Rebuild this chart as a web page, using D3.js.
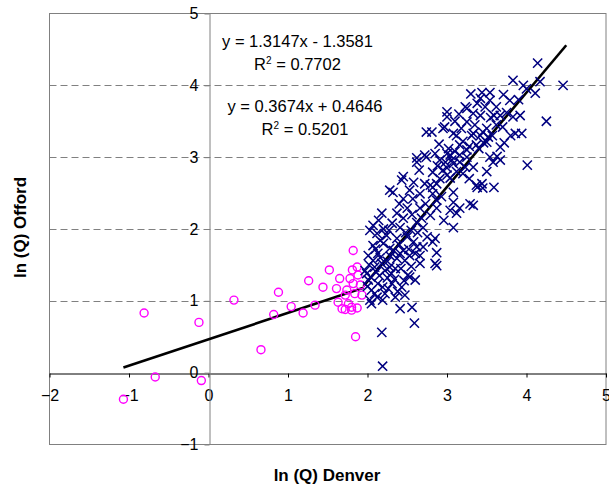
<!DOCTYPE html>
<html lang="en">
<head>
  <meta charset="UTF-8">
  <title>ln Q scatter</title>
  <style>
    body { margin: 0; background: #fff; }
    text { font-family: "Liberation Sans", Arial, sans-serif; fill: #000; }
    .grid line { stroke: #808080; stroke-dasharray: 7,4; }
    .title { font-weight: bold; font-size: 17px; }
    .eq { font-size: 16.5px; }
  </style>
</head>
<body>
  <svg width="609" height="493"></svg>
  <script src="https://cdn.jsdelivr.net/npm/d3@7"></script>
  <script>
    // ln(Q) pairs, Denver (x) vs Offord (y)
    var lowFlow = [
      [-1.07,-0.37],[-0.81,0.83],[-0.67,-0.06],[-0.12,0.70],[-0.09,-0.11],[0.32,1.01],
      [0.66,0.32],[0.82,0.81],[0.88,1.12],[1.04,0.92],[1.19,0.83],[1.26,1.28],
      [1.34,0.94],[1.44,1.19],[1.52,1.43],[1.61,1.17],[1.63,0.98],[1.65,1.31],
      [1.68,0.89],[1.72,1.08],[1.72,0.88],[1.74,1.15],[1.76,0.96],[1.78,1.31],
      [1.80,0.91],[1.80,0.87],[1.81,1.43],[1.82,1.70],[1.82,1.24],[1.84,1.10],
      [1.85,0.50],[1.87,1.47],[1.87,0.90],[1.88,1.36],[1.91,1.22],[1.93,1.08]
    ];
    var highFlow = [
      [2.19,0.09],[2.18,0.56],[2.59,0.69],[2.41,0.89],[2.56,0.91],[2.05,0.96],
      [2.19,1.01],[2.03,1.01],[2.35,1.05],[2.12,1.05],[2.47,1.08],[2.09,1.10],
      [2.22,1.10],[2.43,1.19],[2.19,1.19],[2.13,1.24],[2.31,1.24],[2.01,1.29],
      [2.60,1.29],[2.53,1.33],[2.51,1.36],[1.99,1.38],[2.22,1.42],[1.97,1.42],
      [2.09,1.47],[2.28,1.47],[2.35,1.45],[2.87,1.49],[2.85,1.52],[2.66,1.52],
      [2.47,1.56],[2.16,1.60],[2.37,1.59],[2.01,1.63],[2.53,1.63],[2.66,1.63],
      [2.13,1.66],[2.60,1.66],[2.41,1.66],[2.87,1.67],[2.45,1.70],[2.28,1.73],
      [2.62,1.75],[2.07,1.77],[2.04,1.33],[2.25,1.32],[2.07,1.56],[2.30,1.38],
      [2.05,1.15],[2.15,1.35],[2.25,1.55],[2.33,1.70],[2.10,1.72],[2.20,1.80],
      [2.40,1.78],[2.48,1.95],[2.27,1.98],[2.14,2.12],[2.34,1.30],[2.42,1.45],
      [2.55,1.48],[2.58,1.82],[2.70,1.75],[2.02,1.50],[2.26,1.17],[2.38,1.13],
      [2.00,1.20],[2.11,1.40],[2.18,1.52],[2.29,1.62],[2.46,1.28],[2.52,1.72],
      [2.16,1.84],[2.82,1.82],[2.37,1.87],[2.85,1.87],[2.50,1.89],[2.75,1.89],
      [2.24,1.91],[2.12,1.94],[2.07,2.05],[2.31,2.08],[2.41,2.02],[2.62,2.09],
      [2.70,2.02],[3.08,2.02],[2.45,2.15],[2.79,2.19],[2.18,2.22],[2.37,2.22],
      [3.12,2.22],[3.04,2.26],[2.50,2.29],[2.66,2.29],[2.87,2.29],[3.16,2.29],
      [3.33,2.33],[3.29,2.35],[2.87,2.40],[3.08,2.37],[2.45,2.42],[2.57,2.42],
      [2.28,2.54],[2.53,2.54],[2.66,2.49],[2.82,2.49],[3.08,2.51],[2.32,2.51],
      [2.03,1.98],[2.20,2.00],[2.55,1.98],[2.68,2.15],[2.63,1.95],[2.73,2.35],
      [2.40,2.35],[2.56,2.20],[2.96,2.12],[2.93,2.45],
      [3.45,2.57],[3.38,2.58],[3.59,2.58],[2.82,2.58],[2.79,2.61],[3.37,2.61],
      [2.87,2.63],[2.72,2.63],[2.58,2.65],[3.44,2.63],[2.43,2.68],[2.45,2.73],
      [3.04,2.71],[3.00,2.75],[2.91,2.70],[3.20,2.77],[2.82,2.79],[2.65,2.82],
      [2.95,2.82],[3.00,2.85],[3.23,2.86],[3.33,2.86],[4.01,2.89],[3.08,2.91],
      [3.58,2.93],[3.16,2.93],[2.62,2.93],[2.91,2.96],[3.06,2.96],[3.67,2.96],
      [2.62,2.99],[2.74,3.00],[3.25,3.00],[3.54,3.00],[3.63,3.01],[2.88,2.88],
      [2.98,2.93],[3.12,2.80],[3.28,2.70],[3.50,2.80],
      [2.72,3.03],[3.04,3.03],[3.16,3.03],[3.00,3.05],[3.25,3.10],[3.02,3.12],
      [3.67,3.14],[3.16,3.17],[3.37,3.17],[3.50,3.21],[3.52,3.28],[3.12,3.30],
      [3.31,3.30],[3.42,3.30],[3.08,3.33],[3.33,3.33],[3.86,3.33],[3.94,3.33],
      [2.81,3.35],[2.74,3.35],[3.45,3.35],[2.95,3.40],[2.97,3.42],[3.25,3.49],
      [4.25,3.50],[3.10,3.08],[3.20,3.22],[3.28,3.15],[3.35,3.45],[3.40,3.12],
      [3.46,3.20],[3.50,3.40],[3.57,3.30],[3.62,3.45],[3.70,3.42],[3.10,3.50],
      [3.18,3.40],[2.90,3.18],[2.85,3.05],[3.72,3.20],[3.80,3.30],
      [3.00,3.56],[3.83,3.56],[3.42,3.58],[3.59,3.58],[3.67,3.58],[3.92,3.58],
      [3.33,3.61],[3.00,3.63],[3.23,3.70],[3.25,3.68],[3.79,3.79],[3.54,3.79],
      [3.42,3.82],[3.71,3.87],[4.11,3.89],[3.44,3.90],[3.54,3.90],[4.46,4.00],
      [3.96,4.00],[4.17,4.05],[3.83,4.07],[4.14,4.31],[3.75,3.62],[3.55,3.55],
      [3.48,3.70],[3.38,3.75],[3.62,3.70],[3.90,3.80],[4.00,3.95],[3.30,3.88],
      [3.15,3.60]
    ];
    // fitted lines: slope, intercept, x range
    var lowFit = {m: 0.3674, b: 0.4646, from: -1.07, to: 1.95};
    var highFit = {m: 1.3147, b: -1.3581, from: 1.95, to: 4.5};
    var xTicks = [-2, -1, 0, 1, 2, 3, 4, 5];
    var yTicks = [-1, 0, 1, 2, 3, 4, 5];
    var gridVals = [1, 2, 3, 4];

    var svg = d3.select("svg");
    var x = d3.scaleLinear().domain([-2, 5]).range([49.5, 606]),
      y = d3.scaleLinear().domain([-1, 5]).range([444.5, 13.5]);

    // dashed gridlines
    svg.append("g").attr("class", "grid")
      .selectAll("line").data(gridVals).enter().append("line")
      .attr("x1", x(-2)).attr("x2", x(5))
      .attr("y1", function(d) { return Math.round(y(d)) + 0.5; })
      .attr("y2", function(d) { return Math.round(y(d)) + 0.5; });

    // plot border
    svg.append("rect")
      .attr("x", x(-2)).attr("y", y(5))
      .attr("width", x(5) - x(-2)).attr("height", y(-1) - y(5))
      .attr("fill", "none").attr("stroke", "#808080");

    // axes through the origin
    var xAxis = svg.append("g")
      .attr("transform", "translate(0," + (Math.round(y(0)) + 0.5) + ")")
      .call(d3.axisBottom(x).tickValues(xTicks).tickFormat(d3.format("d"))
        .tickSize(4).tickPadding(12).tickSizeOuter(0));
    xAxis.select(".domain").attr("stroke", "#000");
    xAxis.selectAll(".tick line").attr("stroke", "#000");

    var yAxis = svg.append("g")
      .attr("transform", "translate(" + (Math.round(x(0)) + 0.5) + ",0)")
      .call(d3.axisLeft(y).tickValues(yTicks).tickFormat(d3.format("d"))
        .tickSize(5).tickPadding(6).tickSizeOuter(0));
    yAxis.select(".domain").attr("stroke", "#808080");
    yAxis.selectAll(".tick line").attr("stroke", "#808080");

    svg.selectAll(".tick text")
      .attr("font-family", "Liberation Sans, Arial, sans-serif")
      .attr("font-size", 16).attr("fill", "#000");

    // fitted lines
    var line = d3.line().x(function(d) { return x(d[0]); }).y(function(d) { return y(d[1]); });
    [lowFit, highFit].forEach(function(f) {
      svg.append("path")
        .datum([[f.from, f.m * f.from + f.b], [f.to, f.m * f.to + f.b]])
        .attr("d", line)
        .attr("fill", "none").attr("stroke", "#000").attr("stroke-width", 2.6);
    });

    // circles
    svg.append("g").selectAll("circle").data(lowFlow).enter().append("circle")
      .attr("cx", function(d) { return x(d[0]); })
      .attr("cy", function(d) { return y(d[1]); })
      .attr("r", 4).attr("fill", "none")
      .attr("stroke", "#ff00ff").attr("stroke-width", 1.4);

    // crosses
    var s = 4.6;
    svg.append("g").selectAll("path").data(highFlow).enter().append("path")
      .attr("d", function(d) {
        var cx = x(d[0]), cy = y(d[1]);
        return "M" + (cx - s) + "," + (cy - s) + "L" + (cx + s) + "," + (cy + s) +
          "M" + (cx - s) + "," + (cy + s) + "L" + (cx + s) + "," + (cy - s);
      })
      .attr("stroke", "#000080").attr("stroke-width", 1.5).attr("fill", "none");

    // equation labels
    function eq(cx, base, str, r2) {
      svg.append("text").attr("class", "eq").attr("x", cx).attr("y", base)
        .attr("text-anchor", "middle").text(str);
      var t = svg.append("text").attr("class", "eq").attr("x", cx).attr("y", base + 23.5)
        .attr("text-anchor", "middle");
      t.append("tspan").text("R");
      t.append("tspan").attr("font-size", 10).attr("dy", -6).text("2");
      t.append("tspan").attr("dy", 6).text(" = " + r2);
    }
    eq(297.5, 46.7, "y = 1.3147x - 1.3581", "0.7702");
    eq(305, 111.7, "y = 0.3674x + 0.4646", "0.5201");

    // axis titles
    svg.append("text").attr("class", "title")
      .attr("x", 327).attr("y", 481).attr("text-anchor", "middle")
      .text("ln (Q) Denver");
    svg.append("text").attr("class", "title")
      .attr("transform", "translate(26,227.5) rotate(-90)")
      .attr("text-anchor", "middle")
      .text("ln (Q) Offord");
  </script>
</body>
</html>
